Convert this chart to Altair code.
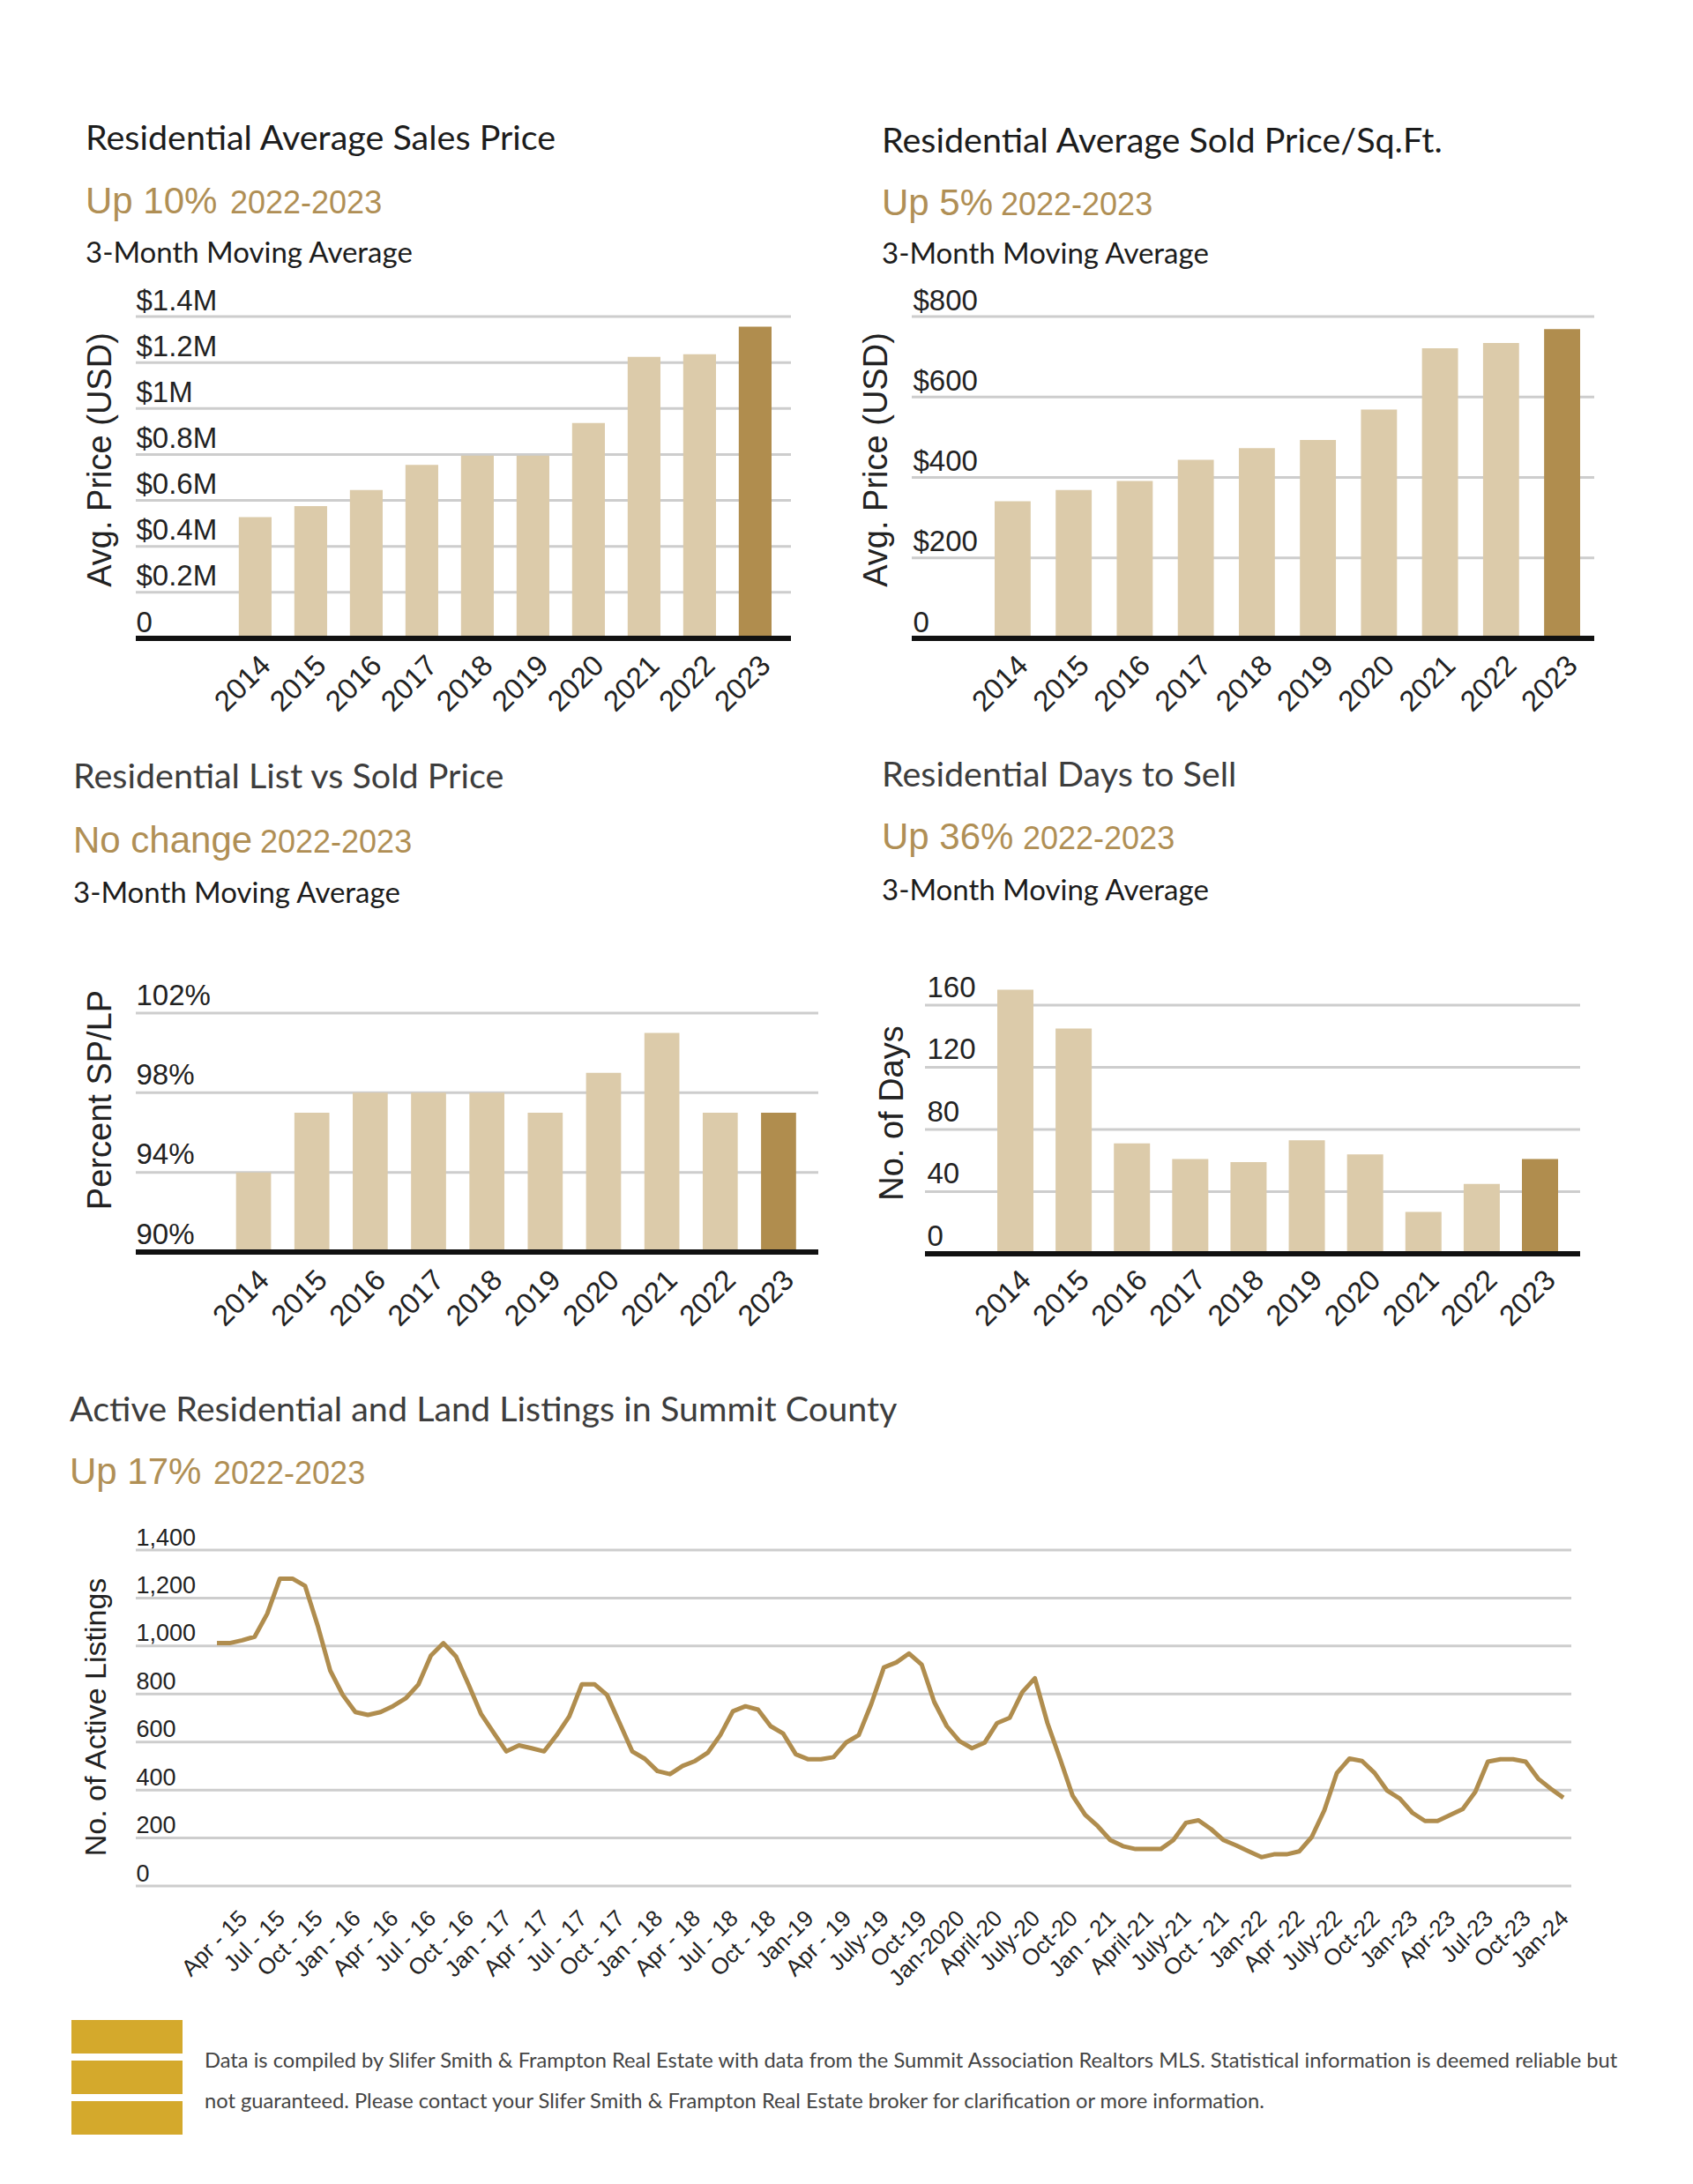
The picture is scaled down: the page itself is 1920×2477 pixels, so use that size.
import altair as alt
import pandas as pd

# ---------------- data ----------------
years = ["2014", "2015", "2016", "2017", "2018", "2019", "2020", "2021", "2022", "2023"]
avg_sales_price = [527000, 575000, 645000, 755000, 795000, 795000, 937000, 1225000, 1236000, 1356000]
price_per_sqft = [341, 369, 391, 444, 473, 493, 569, 721, 734, 769]
list_vs_sold_pct = [94, 97, 98, 98, 98, 97, 99, 101, 97, 97]
days_to_sell = [170, 145, 71, 61, 59, 73, 64, 27, 45, 61]

# monthly active listings, Feb 2015 .. Jan 2024
active_listings = [
    1012, 1012, 1024, 1039, 1135, 1281, 1281, 1251, 1086, 898,
    796, 725, 713, 725, 750, 782, 839, 960, 1012, 956,
    839, 716, 638, 561, 586, 574, 561, 629, 707, 841,
    841, 796, 679, 561, 530, 479, 466, 500, 521, 555,
    629, 728, 749, 735, 666, 635, 549, 528, 528, 537,
    598, 629, 759, 911, 932, 969, 923, 767, 666, 604,
    574, 597, 679, 701, 808, 866, 679, 530, 376, 296,
    249, 191, 166, 154, 154, 154, 191, 263, 274, 237,
    191, 169, 144, 120, 132, 132, 144, 204, 315, 471,
    531, 521, 471, 397, 364, 305, 271, 271, 296, 321,
    392, 518, 528, 528, 518, 447, 405, 368,
]
listing_tick_labels = [
    "Apr - 15", "Jul - 15", "Oct - 15", "Jan - 16", "Apr - 16", "Jul - 16", "Oct - 16",
    "Jan - 17", "Apr - 17", "Jul - 17", "Oct - 17", "Jan - 18", "Apr - 18", "Jul - 18",
    "Oct - 18", "Jan-19", "Apr - 19", "July-19", "Oct-19", "Jan-2020", "April-20",
    "July-20", "Oct-20", "Jan - 21", "April-21", "July-21", "Oct - 21", "Jan-22",
    "Apr -22", "July-22", "Oct-22", "Jan-23", "Apr-23", "Jul-23", "Oct-23", "Jan-24",
]
first_tick_month = 2  # "Apr - 15" is the 3rd monthly point

price_ticks = [0, 200000, 400000, 600000, 800000, 1000000, 1200000, 1400000]
sqft_ticks = [0, 200, 400, 600, 800]
pct_ticks = [90, 94, 98, 102]
days_ticks = [0, 40, 80, 120, 160]
listing_ticks = [0, 200, 400, 600, 800, 1000, 1200, 1400]

footer_lines = [
    "Data is compiled by Slifer Smith & Frampton Real Estate with data from the Summit Association Realtors MLS. Statistical information is deemed reliable but",
    "not guaranteed. Please contact your Slifer Smith & Frampton Real Estate broker for clarification or more information.",
]

# ---------------- style ----------------
LIGHT = "#DCCBAA"
DARK = "#B08D4E"
GOLD_TEXT = "#B08F55"
GRID = "#CDCDCD"
SERIF = "Lato"
SANS = "Liberation Sans"
BLACK = "#1c1c1c"
GREY_T = "#3d3d3d"
CELL_H = 383


def text_layer(s, x, y, size, color, font, baseline="middle"):
    return alt.Chart(pd.DataFrame({"s": [s]})).mark_text(
        align="left", baseline=baseline, font=font, fontSize=size, color=color
    ).encode(x=alt.value(x), y=alt.value(y), text="s:N")


def headings(title, up, hx, ty, uy, yr_dx, my=None, title_color=BLACK):
    layers = [
        text_layer(title, hx, ty, 39.5, title_color, SERIF),
        text_layer(up, hx, uy, 42, GOLD_TEXT, SANS, "alphabetic"),
        text_layer("2022-2023", hx + yr_dx, uy, 36, GOLD_TEXT, SANS, "alphabetic"),
    ]
    if my is not None:
        layers.append(text_layer("3-Month Moving Average", hx, my, 33, BLACK, SERIF))
    return layers


def y_axis(tick_vals, label_expr, title, title_x, title_y, label_dy, label_pad,
           label_size, title_size):
    return alt.Axis(values=tick_vals, labelExpr=label_expr, grid=False,
                    domain=False, ticks=False, tickSize=0,
                    labelAlign="left", labelPadding=label_pad,
                    labelBaseline="alphabetic", labelOffset=label_dy,
                    labelFlush=False, labelFont=SANS, labelFontSize=label_size,
                    labelColor="#222", title=title, titleFont=SANS,
                    titleFontSize=title_size, titleFontWeight="normal",
                    titleColor="#222", titleAngle=270, titleAlign="center",
                    titleBaseline="middle", titleX=title_x, titleY=title_y)


def grid_rules(ticks, field, axis, gx0, gx1):
    return alt.Chart(pd.DataFrame({field: ticks})).mark_rule(
        color=GRID, strokeWidth=3
    ).encode(y=alt.Y(field + ":Q", axis=axis), x=alt.value(gx0), x2=alt.value(gx1))


def bar_panel(values, domain, y_range, tick_vals, label_expr, ytitle, title_x, title_y,
              p_in, band_range, label_dy, label_pad, gx0, gx1, base=0):
    df = pd.DataFrame({
        "year": years,
        "value": values,
        "hl": ["cur" if y == years[-1] else "prev" for y in years],
    })
    axis = y_axis(tick_vals, label_expr, ytitle, title_x, title_y, label_dy, label_pad, 33, 38)
    bars = alt.Chart(df).mark_bar().encode(
        x=alt.X("year:O", title=None,
                scale=alt.Scale(paddingInner=p_in, paddingOuter=0, range=band_range),
                axis=alt.Axis(labelAngle=315, labelFont=SANS, labelFontSize=33,
                              labelColor="#222", labelPadding=14, labelOffset=1,
                              labelOverlap=False, ticks=False, tickSize=0,
                              domain=False, grid=False)),
        y=alt.Y("value:Q",
                scale=alt.Scale(domain=domain, range=y_range, nice=False, zero=False),
                axis=axis),
        y2=alt.datum(base),
        color=alt.Color("hl:N", scale=alt.Scale(domain=["prev", "cur"], range=[LIGHT, DARK]),
                        legend=None),
    )
    baseline = alt.Chart(pd.DataFrame({"b": [base]})).mark_rule(
        color="#111", strokeWidth=6).encode(y=alt.datum(base), x=alt.value(gx0),
                                            x2=alt.value(gx1))
    return [grid_rules(tick_vals, "value", axis, gx0, gx1), bars, baseline]


# ---------------- panels ----------------
tl = alt.layer(
    *bar_panel(avg_sales_price, [0, 1400000], [383, 18], price_ticks,
               "datum.value == 0 ? '0' : '$' + format(datum.value / 1000000, '.1~f') + 'M'",
               "Avg. Price (USD)", -40, 180, 0.41, [116.8, 721], -8, 0, 0, 743),
    *headings("Residential Average Sales Price", "Up 10%", -57, -183, -99, 164, -53),
).properties(width=759, height=CELL_H)

tr = alt.layer(
    *bar_panel(price_per_sqft, [0, 800], [383, 18], sqft_ticks,
               "datum.value == 0 ? '0' : '$' + datum.value",
               "Avg. Price (USD)", -47, 180, 0.41, [87, 751], -8, 6, -7, 767),
    *headings("Residential Average Sold Price/Sq.Ft.", "Up 5%", -41, -180, -97, 135, -52),
).properties(width=767, height=CELL_H)

ml = alt.layer(
    *bar_panel(list_vs_sold_pct, [90, 102], [382, 111], pct_ticks,
               "datum.value + '%'",
               "Percent SP/LP", -40, 209, 0.40, [113.7, 748.8], -10, 0, 0, 774, base=90),
    *headings("Residential List vs Sold Price", "No change", -71, -156, -71, 212, -24,
              title_color=GREY_T),
).properties(width=759, height=CELL_H)

mr = alt.layer(
    *bar_panel(days_to_sell, [0, 160], [384, 102], days_ticks,
               "'' + datum.value",
               "No. of Days", -29, 224, 0.38, [90, 726], -10, -10, 8, 751),
    *headings("Residential Days to Sell", "Up 36%", -41, -158, -75, 160, -27,
              title_color=GREY_T),
).properties(width=751, height=CELL_H)

ldf = pd.DataFrame({"month_index": list(range(len(active_listings))),
                    "listings": active_listings})
tick_positions = [first_tick_month + 3 * k for k in range(len(listing_tick_labels))]
label_array = "[" + ",".join("'" + s + "'" for s in listing_tick_labels) + "]"

listing_axis = y_axis(listing_ticks, "format(datum.value, ',.0f')",
                      "No. of Active Listings", -45, 212, -6, 0, 27, 34)

line = alt.Chart(ldf).mark_line(color=DARK, strokeWidth=5, strokeJoin="round").encode(
    x=alt.X("month_index:Q", title=None,
            scale=alt.Scale(domain=[-6.45, 107.63], range=[0, 1628], nice=False, zero=False),
            axis=alt.Axis(values=tick_positions,
                          labelExpr=label_array + "[round((datum.value - 2) / 3)]",
                          labelAngle=315, labelFont=SANS, labelFontSize=26,
                          labelColor="#222", labelPadding=44, labelOffset=-8,
                          labelOverlap=False, labelFlush=False, ticks=False, tickSize=0,
                          domain=False, grid=False)),
    y=alt.Y("listings:Q", scale=alt.Scale(domain=[0, 1400], range=[404, 23], nice=False),
            axis=listing_axis),
)

footer_boxes = []
for y0, y1 in [(556, 594), (602, 640), (648, 686)]:
    footer_boxes.append(
        alt.Chart(pd.DataFrame({"b": [1]})).mark_rect(color="#D4A92C").encode(
            x=alt.value(-73), x2=alt.value(53), y=alt.value(y0), y2=alt.value(y1))
    )

line_panel = alt.layer(
    grid_rules(listing_ticks, "listings", listing_axis, 0, 1628),
    line,
    *headings("Active Residential and Land Listings in Summit County", "Up 17%",
              -75, -135, -52, 163, None, title_color=GREY_T),
    *footer_boxes,
    text_layer(footer_lines[0], 78, 603, 23.7, "#444", SERIF),
    text_layer(footer_lines[1], 78, 649, 23.7, "#444", SERIF),
).properties(width=759, height=CELL_H)

chart = alt.concat(
    tl, tr, ml, mr, line_panel,
    columns=2,
    spacing={"row": 314, "column": 120},
    bounds="flush",
    align="all",
).properties(
    padding={"left": 71, "top": 130, "right": 10, "bottom": 10},
    background="white",
).configure_view(strokeWidth=0)

chart.save("out.html", embed_options={"renderer": "svg", "actions": False})
